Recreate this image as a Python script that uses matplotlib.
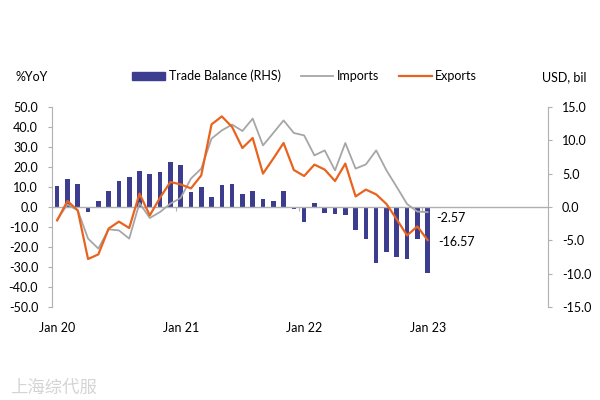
import matplotlib
matplotlib.use('Agg')
import matplotlib.pyplot as plt
import numpy as np
from matplotlib.patches import Patch
from matplotlib.lines import Line2D

plt.rcParams['font.family'] = ['Lato', 'DejaVu Sans']
plt.rcParams['font.size'] = 9

# monthly, Jan 2020 .. Jan 2023
tick_labels = ['Jan 20', 'Jan 21', 'Jan 22', 'Jan 23']
exports = [-6.7, 3.0, -1.7, -26.0, -23.7, -10.8, -7.3, -10.5, 6.7, -4.2, 4.7, 12.5,
           11.3, 9.3, 15.8, 41.3, 45.3, 40.0, 29.5, 34.5, 16.7, 24.2, 32.0, 18.5,
           15.5, 21.2, 18.7, 13.0, 21.7, 5.3, 8.7, 6.3, 1.5, -6.2, -14.2, -9.7, -16.57]
imports = [-6.3, 1.3, -1.7, -15.8, -20.8, -11.2, -11.7, -15.8, 2.0, -5.5, -2.5, 1.7,
           4.5, 14.2, 19.2, 34.2, 38.3, 41.2, 38.0, 44.2, 30.8, 37.0, 43.3, 37.0,
           35.8, 25.8, 28.3, 18.3, 32.0, 19.2, 21.3, 28.3, 18.3, 10.0, 1.5, -2.3, -2.57]
balance = [3.15, 4.25, 3.4, -0.8, 0.95, 2.45, 3.95, 4.45, 5.4, 4.9, 5.3, 6.8,
           6.35, 2.3, 3.05, 1.55, 3.3, 3.4, 2.0, 2.45, 1.2, 0.95, 2.35, -0.3,
           -2.2, 0.6, -0.9, -1.0, -1.2, -3.4, -4.75, -8.35, -6.75, -7.5, -7.75, -4.75, -9.85]

navy = '#3d3d8f'
orange = '#e8641e'
grey = '#a6a6a6'
axis_grey = '#b0b0b0'

x = np.arange(len(exports))
jan_idx = x[::12]

fig = plt.figure(figsize=(6, 4), dpi=100)
ax = fig.add_axes([0.0867, 0.2325, 0.8267, 0.5])
ax2 = ax.twinx()

# bars on the right axis, drawn behind the lines
ax2.bar(x, balance, width=0.45, color=navy, zorder=1)
ax.set_zorder(ax2.get_zorder() + 1)
ax.patch.set_visible(False)

ax.plot(x, imports, color=grey, lw=1.3, zorder=3)
ax.plot(x, exports, color=orange, lw=1.6, zorder=4)
ax.axhline(0, color=axis_grey, lw=1, zorder=2)
ax.vlines(jan_idx - 0.5, -1.8, 0, color=axis_grey, lw=0.8)

ax.set_xlim(-0.5, 47.7)
ax.set_ylim(-50, 50)
ax2.set_ylim(-15, 15)
ax.set_yticks(np.arange(-50, 51, 10))
ax2.set_yticks(np.arange(-15, 16, 5))
ax.set_yticklabels(['%.1f' % v for v in np.arange(-50, 51, 10)])
ax2.set_yticklabels(['%.1f' % v for v in np.arange(-15, 16, 5)])
ax.set_xticks(jan_idx)
ax.set_xticklabels(tick_labels)
ax.tick_params(axis='x', length=0, pad=11)
ax.tick_params(axis='y', length=3, color=axis_grey, pad=7)
ax2.tick_params(axis='y', length=3, color=axis_grey, pad=7)

for a in (ax, ax2):
    for s in ('top', 'bottom'):
        a.spines[s].set_visible(False)
    a.spines['left'].set_color(axis_grey)
    a.spines['right'].set_color(axis_grey)
ax.spines['right'].set_visible(False)
ax2.spines['left'].set_visible(False)

ax.annotate('%.2f' % imports[-1], xy=(x[-1], imports[-1]), xytext=(6, -4),
            textcoords='offset points', va='center', ha='left')
ax.annotate('%.2f' % exports[-1], xy=(x[-1], exports[-1]), xytext=(8, -1),
            textcoords='offset points', va='center', ha='left')

handles = [Patch(color=navy, label='Trade Balance (RHS)'),
           Line2D([], [], color=grey, lw=1.3, label='Imports'),
           Line2D([], [], color=orange, lw=1.6, label='Exports')]
fig.legend(handles=handles, loc='center', bbox_to_anchor=(0.508, 0.81), ncol=3,
           frameon=False, handlelength=2.6, handletextpad=0.3, columnspacing=1.6)

fig.text(0.025, 0.808, '%YoY', ha='left', va='center')
fig.text(0.977, 0.808, 'USD, bil', ha='right', va='center')
fig.text(0.017, 0.03, '上海综代服', ha='left', va='center', color='#d4d4d4',
         fontsize=12.5, family=['Noto Sans CJK SC', 'DejaVu Sans'])

fig.savefig('out.png', dpi=100)
